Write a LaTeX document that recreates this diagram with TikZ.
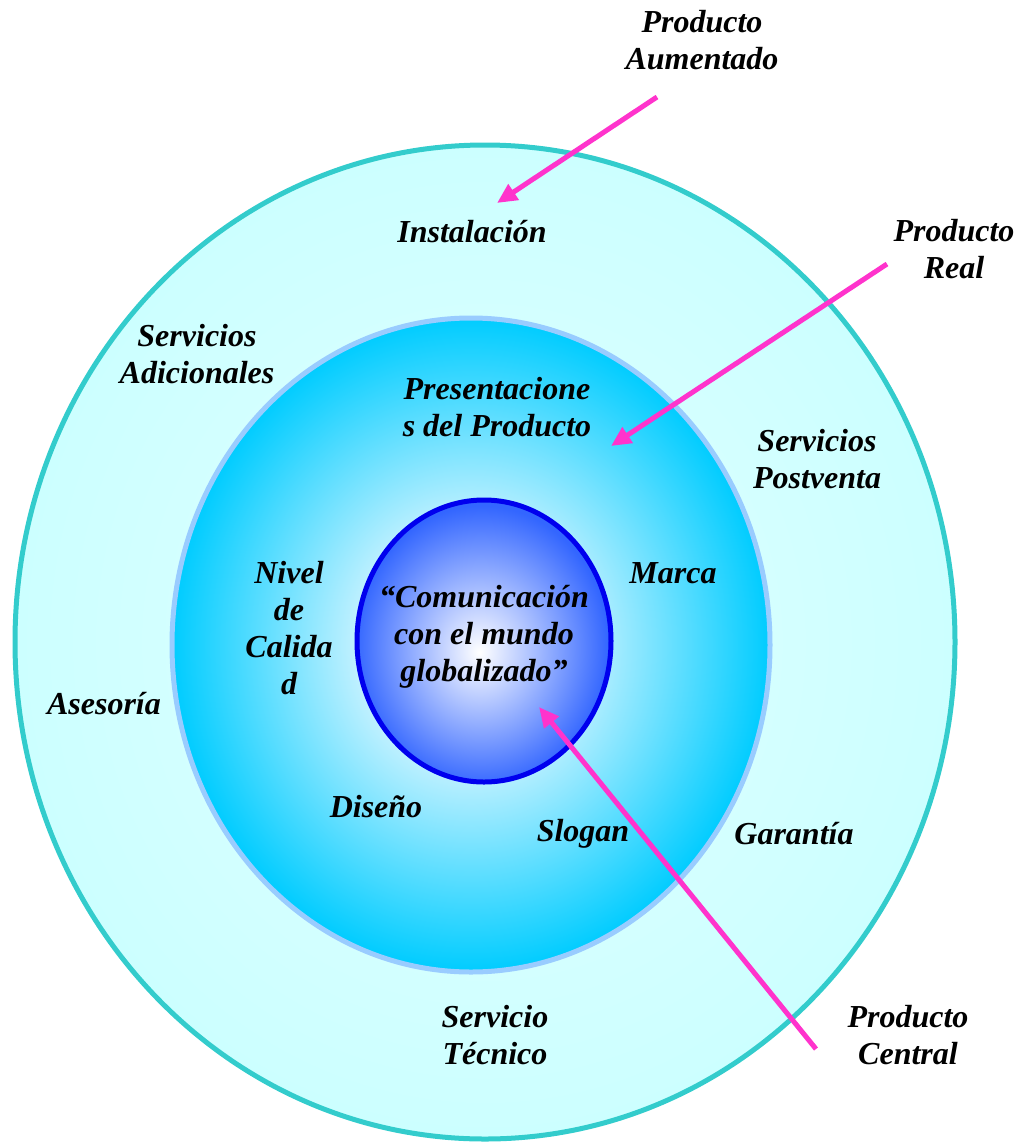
\documentclass[tikz,border=0pt]{standalone}
\usepackage{fontspec}
\setmainfont{Liberation Serif}
\usetikzlibrary{arrows.meta}
\definecolor{outerfill}{HTML}{CCFFFF}
\definecolor{outerline}{HTML}{33CCCC}
\definecolor{midfill}{HTML}{00CCFF}
\definecolor{midpale}{HTML}{C8F2FF}
\definecolor{midline}{HTML}{99CCFF}
\definecolor{innerfill}{HTML}{3366FF}
\definecolor{innerline}{HTML}{0000EE}
\definecolor{arrowpink}{HTML}{FF33CC}
\pgfdeclareradialshading{midshade}{\pgfpoint{0bp}{0bp}}{color(0bp)=(white); color(9bp)=(midpale); color(25bp)=(midfill); color(50bp)=(midfill)}
\pgfdeclareradialshading{innershade}{\pgfpoint{-1bp}{-2bp}}{color(0bp)=(white); color(25bp)=(innerfill); color(50bp)=(innerfill)}
\pgfdeclareradialshading{outershade}{\pgfpoint{0bp}{0bp}}{color(0bp)=(white!40!outerfill); color(25bp)=(outerfill); color(50bp)=(outerfill)}
\begin{document}
\begin{tikzpicture}[x=1pt,y=-1pt,
  lbl/.style={font=\fontsize{32}{37}\selectfont\bfseries\itshape, align=center, inner sep=0pt, text=black},
  pinkarrow/.style={draw=arrowpink, line width=5pt, -{Triangle[length=20pt,width=18pt]}}]
\useasboundingbox (0,0) rectangle (1021,1144);
% rings
\path[shading=outershade, draw=outerline, line width=5pt] (485,642) ellipse [x radius=470, y radius=497];
\path[shading=midshade, draw=midline, line width=5pt] (471,645) ellipse [x radius=299, y radius=327];
\path[shading=innershade, draw=innerline, line width=5pt] (484,641) ellipse [x radius=127, y radius=141];
% labels
\node[lbl] (aum) at (702,40) {Producto\\Aumentado};
\node[lbl] (inst) at (472,232) {Instalación};
\node[lbl] (real) at (954,249) {Producto\\Real};
\node[lbl] (adic) at (197,354) {Servicios\\Adicionales};
\node[lbl] (pres) at (497,407) {Presentacione\\s del Producto};
\node[lbl] (post) at (817,459) {Servicios\\Postventa};
\node[lbl] (niv) at (289,628) {Nivel\\de\\Calida\\d};
\node[lbl] (marca) at (673,573) {Marca};
\node[lbl] (com) at (484,637) {“Comunicación\\con el mundo\\globalizado”};
\node[lbl] (ases) at (104,704) {Asesoría};
\node[lbl] (dis) at (376,807) {Diseño};
\node[lbl] (slog) at (583,834) {Slogan};
\node[lbl] (gar) at (794,834) {Garantía};
\node[lbl] (tec) at (495,1035) {Servicio\\Técnico};
\node[lbl] (cent) at (908,1035) {Producto\\Central};
% arrow endpoints
\coordinate (a1s) at (657,97);
\coordinate (a1e) at (497,203);
\coordinate (a2s) at (887,264);
\coordinate (a2e) at (611,446);
\coordinate (a3s) at (816,1049);
\coordinate (a3e) at (539,707);
\draw[pinkarrow] (a1s) -- (a1e);
\draw[pinkarrow] (a2s) -- (a2e);
\draw[pinkarrow] (a3s) -- (a3e);
\end{tikzpicture}
\end{document}
